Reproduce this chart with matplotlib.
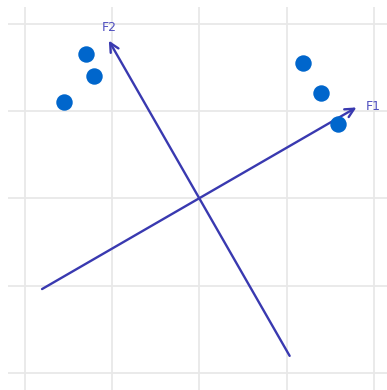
import numpy as np
import matplotlib.pyplot as plt

# observation scores in the factor plane
score_x = [-1.30, -1.20, -1.55, 1.19, 1.39, 1.59]
score_y = [1.65, 1.40, 1.10, 1.55, 1.20, 0.85]

# factor axes (tip of each direction vector)
factor_names = ['F1', 'F2']
factor_x = [1.80, -1.035]
factor_y = [1.04, 1.805]

fig = plt.figure(figsize=(3.87, 3.90), dpi=100)
ax = fig.add_axes([8 / 387, 0, 1 - 8 / 387, 1 - 7 / 390])
ax.set_xlim(-2.19, 2.15)
ax.set_ylim(-2.196, 2.19)

ticks = [-2, -1, 0, 1, 2]
ax.set_xticks(ticks)
ax.set_yticks(ticks)
ax.tick_params(length=0, labelbottom=False, labelleft=False)
ax.grid(True, color='#e8e8e8', linewidth=1.3)
ax.set_axisbelow(True)
for s in ax.spines.values():
    s.set_visible(False)

line_col = '#3939b0'
for name, fx, fy in zip(factor_names, factor_x, factor_y):
    ax.annotate('', xy=(fx, fy), xytext=(-fx, -fy),
                arrowprops=dict(arrowstyle='->', color=line_col, lw=1.7,
                                mutation_scale=16, shrinkA=0, shrinkB=0))
    if name == 'F1':
        ax.text(fx + 0.11, fy + 0.005, name, color='#5050c0', fontsize=9,
                ha='left', va='center')
    else:
        ax.text(fx, fy + 0.075, name, color='#5050c0', fontsize=9,
                ha='center', va='bottom')

ax.scatter(score_x, score_y, s=140, color='#0066cc', zorder=3, linewidths=0)

fig.savefig('out.png', dpi=100)
